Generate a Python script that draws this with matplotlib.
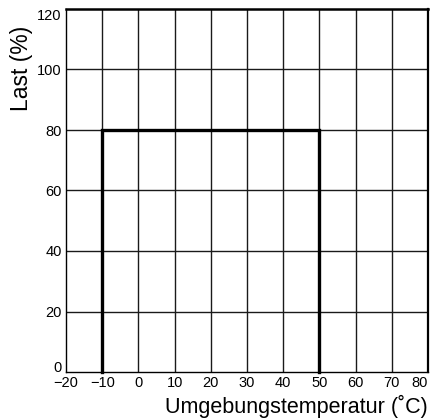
import matplotlib
matplotlib.use("Agg")
import matplotlib.pyplot as plt

plt.rcParams['font.family'] = ['Liberation Sans', 'DejaVu Sans']

# derating curve: load (%) vs ambient temperature (C)
temp = [-10, -10, 50, 50]
load = [0, 80, 80, 0]

x_ticks = [-20, -10, 0, 10, 20, 30, 40, 50, 60, 70, 80]
y_ticks = [0, 20, 40, 60, 80, 100, 120]


def main():
    fig = plt.figure(figsize=(4.31, 4.19), dpi=100)
    ax = fig.add_axes([66 / 431, 47 / 419, 362 / 431, 363 / 419])

    ax.set_xlim(-20, 80)
    ax.set_ylim(0, 120)

    for x in x_ticks[1:-1]:
        ax.axvline(x, color='#1a1a1a', lw=1.0, zorder=1)
    for y in y_ticks[1:-1]:
        ax.axhline(y, color='#1a1a1a', lw=1.0, zorder=1)

    ax.plot(temp, load, color='black', lw=2.4, solid_joinstyle='miter',
            zorder=3, clip_on=False)

    for side in ['left', 'bottom']:
        ax.spines[side].set_linewidth(1.0)
    ax.spines['right'].set_linewidth(1.6)
    ax.spines['top'].set_linewidth(1.8)

    ax.set_xticks(x_ticks)
    ax.set_xticklabels([str(v).replace('-', '\u2212') for v in x_ticks])
    ax.set_yticks(y_ticks)
    ax.set_yticklabels([str(v) for v in y_ticks])
    ax.tick_params(axis='both', length=0, labelsize=10.5)
    ax.tick_params(axis='x', pad=3)
    ax.tick_params(axis='y', pad=3)

    # end labels pulled inside, as in the original
    xl = ax.get_xticklabels()
    xl[-1].set_horizontalalignment('right')
    xl[-1].set_x(80.3)
    yl = ax.get_yticklabels()
    yl[0].set_verticalalignment('baseline')
    yl[-1].set_verticalalignment('top')

    fig.text(22 / 431, 1 - 68 / 419, 'Last (%)', rotation=90,
             ha='center', va='center', fontsize=16.5)
    fig.text(428 / 431, 1 - 406 / 419, 'Umgebungstemperatur (˚C)',
             ha='right', va='center', fontsize=15.5)

    fig.savefig('out.png', dpi=100)


if __name__ == "__main__":
    main()
